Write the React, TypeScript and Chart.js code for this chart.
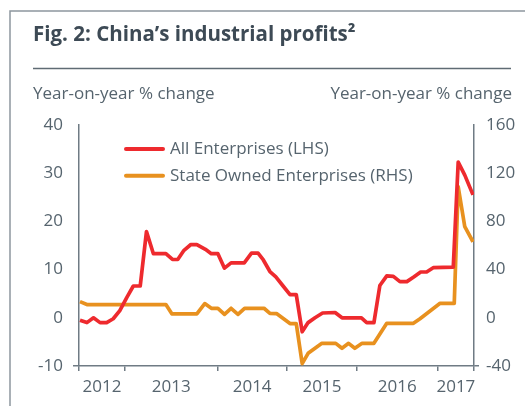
import React, { useEffect, useRef } from "react";
import { Chart, registerables } from "chart.js";

Chart.register(...registerables);

// ---- data (x = period index along the axis, y = % change) ----
const seriesNames = ["All Enterprises (LHS)", "State Owned Enterprises (RHS)"];

const allX = [0.15, 1.2, 2.2, 3.2, 4.2, 5.2, 6.2, 7.25, 8.25, 9.3, 10.25, 11.3, 13.2, 14.2, 15.0, 15.95, 17.0, 17.9, 19.2, 20.1, 21.1, 22.1, 23.1, 25.1, 26.2, 27.2, 28.0, 29.0, 29.9, 31.0, 32.05, 33.0, 33.9, 34.8, 35.85, 37.0, 38.9, 39.95, 42.9, 43.7, 44.8, 45.7, 46.75, 47.75, 48.75, 49.8, 50.9, 51.9, 52.8, 53.8, 56.85, 57.6, 58.6, 59.85];
const allY = [-0.5, -1.0, 0.0, -1.0, -1.0, -0.2, 1.5, 4.2, 6.6, 6.6, 17.9, 13.3, 13.3, 12.1, 12.1, 14.0, 15.2, 15.2, 14.2, 13.3, 13.3, 10.3, 11.4, 11.4, 13.4, 13.4, 12.0, 9.6, 8.5, 6.6, 4.8, 4.8, -2.9, -1.0, 0.0, 1.0, 1.1, 0.0, 0.0, -1.0, -1.0, 6.7, 8.7, 8.6, 7.5, 7.5, 8.5, 9.5, 9.5, 10.4, 10.5, 32.3, 29.6, 25.5];

const soeX = [0.15, 1.2, 13.2, 14.1, 17.9, 19.1, 20.1, 21.1, 22.1, 23.1, 24.15, 25.15, 28.1, 29.0, 30.0, 32.05, 33.0, 33.9, 34.8, 35.85, 36.9, 39.0, 39.95, 40.95, 41.9, 43.0, 44.8, 46.75, 50.8, 51.8, 54.85, 57.0, 57.6, 58.6, 59.85];
const soeY = [13.4, 11, 11, 3.3, 3.3, 11.8, 7.9, 7.9, 2.9, 7.9, 2.9, 7.9, 7.9, 3.7, 3.5, -4.8, -4.8, -38, -29.5, -25.3, -21.2, -21.2, -25.3, -21.2, -25.3, -21.2, -21.2, -4.6, -4.6, -0.8, 12, 12, 108.8, 75.6, 63];

const yearLabels = ["2012", "2013", "2014", "2015", "2016", "2017"];
const yearBoundaries = [0, 7.0, 21.0, 31.6, 42.2, 54.5, 60];

const lhsMin = -10, lhsMax = 40, lhsStep = 10;
const rhsMin = -40, rhsMax = 160, rhsStep = 40;

const titleText = "Fig. 2: China\u2019s industrial profits\u00B2";
const axisTitle = "Year-on-year % change";

// ---- styles ----
const FONT = "'Open Sans', 'Noto Sans', sans-serif";
const TEXT = "#56646e";
const TITLE = "#3d4a55";
const AXIS = "#6f7b84";
const RED = "#ee2a2e";
const ORANGE = "#e8911f";

const labelPositions = yearLabels.map((_, i) => (yearBoundaries[i] + yearBoundaries[i + 1]) / 2);

export default function App() {
  const ref = useRef<HTMLCanvasElement>(null);

  useEffect(() => {
    const canvas = ref.current!;
    const decor = {
      id: "decor",
      beforeDraw(chart: any) {
        const ctx = chart.ctx;
        ctx.save();
        ctx.fillStyle = "#ffffff";
        ctx.fillRect(0, 0, chart.width, chart.height);
        // frame
        ctx.strokeStyle = "#8d979e";
        ctx.lineWidth = 1.5;
        ctx.beginPath();
        ctx.moveTo(10, chart.height);
        ctx.lineTo(10, 11);
        ctx.lineTo(chart.width, 11);
        ctx.stroke();
        // title
        ctx.fillStyle = TITLE;
        ctx.font = `bold 20.5px ${FONT}`;
        ctx.textAlign = "left";
        ctx.textBaseline = "alphabetic";
        ctx.fillText(titleText, 33, 41);
        // rule
        ctx.strokeStyle = "#5f6b74";
        ctx.lineWidth = 1.5;
        ctx.beginPath();
        ctx.moveTo(33, 68.5);
        ctx.lineTo(511, 68.5);
        ctx.stroke();
        // axis titles
        ctx.fillStyle = TEXT;
        ctx.font = `17px ${FONT}`;
        ctx.textAlign = "left";
        ctx.fillText(axisTitle, 33, 99);
        ctx.textAlign = "right";
        ctx.fillText(axisTitle, 512, 99);
        ctx.restore();
      },
      afterDraw(chart: any) {
        const ctx = chart.ctx;
        const area = chart.chartArea;
        ctx.save();
        ctx.font = `17px ${FONT}`;
        ctx.textAlign = "left";
        ctx.textBaseline = "middle";
        chart.data.datasets.forEach((ds: any, i: number) => {
          const y = area.top + 24 + 26.7 * i;
          ctx.strokeStyle = ds.borderColor;
          ctx.lineWidth = 4;
          ctx.lineCap = "round";
          ctx.beginPath();
          ctx.moveTo(area.left + 47, y);
          ctx.lineTo(area.left + 84, y);
          ctx.stroke();
          ctx.fillStyle = TEXT;
          ctx.fillText(ds.label, area.left + 91, y);
        });
        ctx.restore();
      },
    };

    const isBoundary = (v: number) => yearBoundaries.some((b) => Math.abs(b - v) < 1e-6);

    const chart = new Chart(canvas, {
      type: "line",
      data: {
        datasets: [
          {
            label: seriesNames[0],
            data: allX.map((x, i) => ({ x, y: allY[i] })),
            borderColor: RED,
            backgroundColor: RED,
            borderWidth: 3.7,
            pointRadius: 0,
            tension: 0,
            borderJoinStyle: "round",
            yAxisID: "y",
          },
          {
            label: seriesNames[1],
            data: soeX.map((x, i) => ({ x, y: soeY[i] })),
            borderColor: ORANGE,
            backgroundColor: ORANGE,
            borderWidth: 3.7,
            pointRadius: 0,
            tension: 0,
            borderJoinStyle: "round",
            yAxisID: "y2",
          },
        ],
      },
      options: {
        responsive: false,
        animation: false,
        events: [],
        layout: { padding: { top: 125, left: 0, right: 0, bottom: 0 } },
        plugins: { legend: { display: false }, tooltip: { enabled: false }, title: { display: false } },
        scales: {
          x: {
            type: "linear",
            position: "bottom",
            min: yearBoundaries[0],
            max: yearBoundaries[yearBoundaries.length - 1],
            afterFit: (s: any) => { s.height = 40; },
            afterBuildTicks: (s: any) => {
              const vals = [...yearBoundaries, ...labelPositions].sort((a, b) => a - b);
              s.ticks = vals.map((v) => ({ value: v }));
            },
            ticks: {
              autoSkip: false,
              maxRotation: 0,
              padding: 6,
              color: TEXT,
              font: { family: FONT, size: 17 },
              callback: (v: any) => {
                const i = labelPositions.findIndex((p) => Math.abs(p - v) < 1e-6);
                return i >= 0 ? yearLabels[i] : "";
              },
            },
            grid: {
              drawOnChartArea: false,
              drawTicks: true,
              tickLength: 5,
              lineWidth: 1.5,
              color: (c: any) => (c.tick && isBoundary(c.tick.value) ? AXIS : "rgba(0,0,0,0)"),
            },
            border: { display: true, color: AXIS, width: 1.5 },
          },
          y: {
            type: "linear",
            position: "left",
            min: lhsMin,
            max: lhsMax,
            afterFit: (s: any) => { s.width = 79; },
            ticks: { stepSize: lhsStep, padding: 10, color: TEXT, font: { family: FONT, size: 17 } },
            grid: {
              drawOnChartArea: false,
              tickLength: 6,
              lineWidth: 1.5,
              color: (c: any) => (c.tick && c.tick.value === lhsMin ? AXIS : "rgba(0,0,0,0)"),
            },
            border: { display: true, color: AXIS, width: 1.5 },
          },
          y2: {
            type: "linear",
            position: "right",
            min: rhsMin,
            max: rhsMax,
            afterFit: (s: any) => { s.width = 51; },
            ticks: { stepSize: rhsStep, padding: 7, color: TEXT, font: { family: FONT, size: 17 } },
            grid: {
              drawOnChartArea: false,
              tickLength: 5,
              lineWidth: 1.5,
              color: (c: any) => (c.tick && c.tick.value === rhsMin ? AXIS : "rgba(0,0,0,0)"),
            },
            border: { display: true, color: AXIS, width: 1.5 },
          },
        },
      } as any,
      plugins: [decor],
    });
    return () => chart.destroy();
  }, []);

  return (
    <div style={{ position: "fixed", left: 0, top: 0, width: 525, height: 406, background: "#fff" }}>
      <canvas ref={ref} width={525} height={406} style={{ display: "block" }} />
    </div>
  );
}
